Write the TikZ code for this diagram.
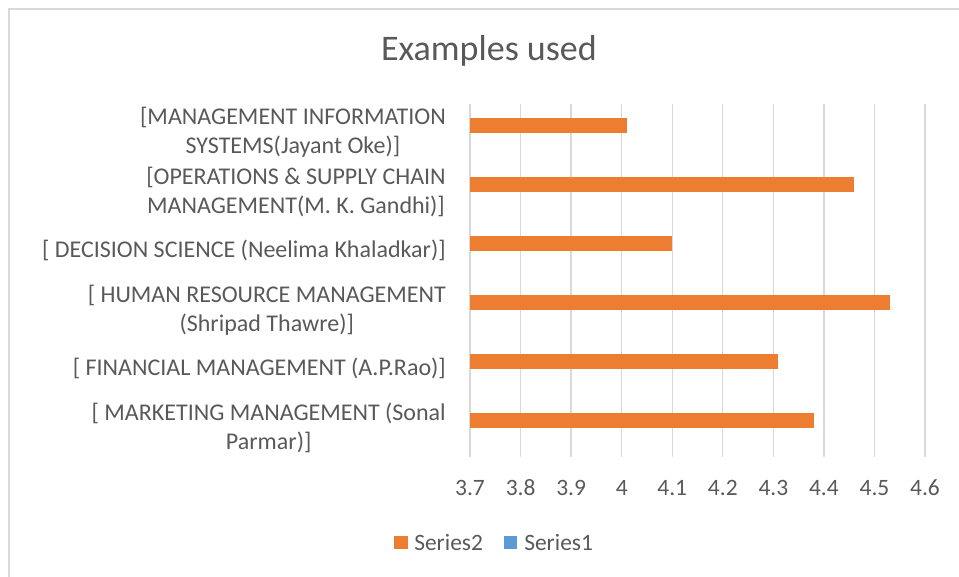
\documentclass[tikz,border=0pt]{standalone}
\usepackage{fontspec}
\setmainfont{Carlito}
\definecolor{barorange}{HTML}{ED7D31}
\definecolor{barblue}{HTML}{5B9BD5}
\definecolor{gridgray}{HTML}{D9D9D9}
\definecolor{textgray}{HTML}{595959}

\begin{document}
\begin{tikzpicture}[
        x=0.75pt, y=-0.75pt,
        catlabel/.style={
            anchor=east, 
            align=center, 
            inner sep=0pt, 
            text=textgray, 
            font=\fontsize{18}{21.75}\selectfont
        },
        ticklabel/.style={
            anchor=center, 
            inner sep=0pt, 
            text=textgray, 
            font=\fontsize{17.6}{21.75}\selectfont
        },
        gridline/.style={
            draw=gridgray, 
            line width=1pt
        },
        bar/.style={
            fill=barorange
        },
        legendkey/.style={
            rectangle, 
            minimum size=10pt, 
            inner sep=0pt
        }
    ]
    \useasboundingbox (0,0) rectangle (959,576);

    % --- Chart frame ---
    \draw[gridgray, line width=1pt] (9,9) rectangle (965,585);

    % --- Title ---
    \node[anchor=base, inner sep=0pt, text=textgray, font=\fontsize{27}{33}\selectfont] (title) at (489,60.7) {Examples used};

    % --- Vertical grid ---
    \draw[gridline] (470,104) -- (470,457);
    \draw[gridline] (520.6,104) -- (520.6,457);
    \draw[gridline] (571.1,104) -- (571.1,457);
    \draw[gridline] (621.7,104) -- (621.7,457);
    \draw[gridline] (672.2,104) -- (672.2,457);
    \draw[gridline] (722.8,104) -- (722.8,457);
    \draw[gridline] (773.4,104) -- (773.4,457);
    \draw[gridline] (823.9,104) -- (823.9,457);
    \draw[gridline] (874.5,104) -- (874.5,457);
    \draw[gridline] (925,104) -- (925,457);

    % --- Axis values ---
    \node[ticklabel] (t37) at (470,488) {3.7};
    \node[ticklabel] (t38) at (520.6,488) {3.8};
    \node[ticklabel] (t39) at (571.1,488) {3.9};
    \node[ticklabel] (t40) at (621.7,488) {4};
    \node[ticklabel] (t41) at (672.2,488) {4.1};
    \node[ticklabel] (t42) at (722.8,488) {4.2};
    \node[ticklabel] (t43) at (773.4,488) {4.3};
    \node[ticklabel] (t44) at (823.9,488) {4.4};
    \node[ticklabel] (t45) at (874.5,488) {4.5};
    \node[ticklabel] (t46) at (925,488) {4.6};

    % --- Bars (Series2) ---
    \fill[bar] (470,118) rectangle (626.7,133);
    \fill[bar] (470,177) rectangle (854.3,192);
    \fill[bar] (470,236) rectangle (672.2,251);
    \fill[bar] (470,295) rectangle (889.6,310);
    \fill[bar] (470,354) rectangle (778.4,369);
    \fill[bar] (470,413) rectangle (813.8,428);

    % --- Categories ---
    \node[catlabel] (mis) at (446,132.5) {[MANAGEMENT INFORMATION\\SYSTEMS(Jayant Oke)]\hspace{12pt}};
    \node[catlabel] (ops) at (446,192) {[OPERATIONS \& SUPPLY CHAIN\\MANAGEMENT(M. K. Gandhi)]\hspace{12pt}};
    \node[catlabel] (ds) at (446,250) {[ DECISION SCIENCE (Neelima Khaladkar)]};
    \node[catlabel] (hrm) at (446,310.5) {[ HUMAN RESOURCE MANAGEMENT\\(Shripad Thawre)]\hspace{12pt}};
    \node[catlabel] (fm) at (446,368) {[ FINANCIAL MANAGEMENT (A.P.Rao)]};
    \node[catlabel] (mm) at (446,427.5) {[ MARKETING MANAGEMENT (Sonal\\Parmar)]\hspace{12pt}};

    % --- Legend ---
    \node[legendkey, fill=barorange] (key2) at (401,542.5) {};
    \node[ticklabel, anchor=west] (ser2) at (414,542) {Series2};
    \node[legendkey, fill=barblue] (key1) at (510.5,542.5) {};
    \node[ticklabel, anchor=west] (ser1) at (524,542) {Series1};

    \end{tikzpicture}
\end{document}
